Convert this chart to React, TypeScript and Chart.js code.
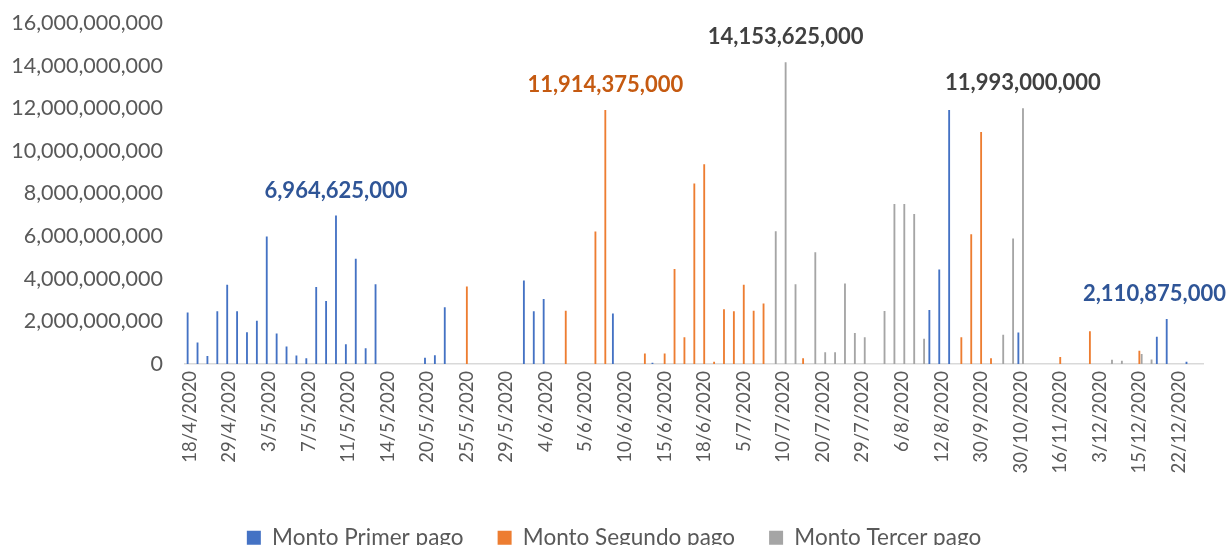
import React, { useEffect, useRef } from 'react';
import { Chart, registerables } from 'chart.js';

Chart.register(...registerables);

// Visible category tick labels (one every 4 categories)
const tickLabels = [
  '18/4/2020', '29/4/2020', '3/5/2020', '7/5/2020', '11/5/2020', '14/5/2020',
  '20/5/2020', '25/5/2020', '29/5/2020', '4/6/2020', '5/6/2020', '10/6/2020',
  '15/6/2020', '18/6/2020', '5/7/2020', '10/7/2020', '20/7/2020', '29/7/2020',
  '6/8/2020', '12/8/2020', '30/9/2020', '30/10/2020', '16/11/2020', '3/12/2020',
  '15/12/2020', '22/12/2020',
];
const categoryCount = 103;
const labelEvery = 4;

const seriesNames = ['Monto Primer pago', 'Monto Segundo pago', 'Monto Tercer pago'];

// Monto Primer pago
const primerPago = [
  2.41e9, 1.01e9, 0.37e9, 2.47e9, 3.72e9, 2.47e9, 1.48e9, 2.03e9, 5.98e9, 1.43e9,
  0.82e9, 0.40e9, 0.26e9, 3.61e9, 2.95e9, 6.964625e9, 0.92e9, 4.94e9, 0.73e9, 3.74e9,
  0, 0, 0, 0, 0.29e9, 0.41e9, 2.66e9, 0, 0, 0,
  0, 0, 0, 0, 3.92e9, 2.47e9, 3.05e9, 0, 0, 0,
  0, 0, 0, 2.36e9, 0, 0, 0, 0.05e9, 0, 0,
  0, 0, 0, 0, 0, 0, 0, 0, 0, 0,
  0, 0, 0, 0, 0, 0, 0, 0, 0, 0,
  0, 0, 0, 0, 0, 2.53e9, 4.43e9, 11.92e9, 0, 0,
  0, 0, 0, 0, 1.47e9, 0, 0, 0, 0, 0,
  0, 0, 0, 0, 0, 0, 0, 0, 1.28e9, 2.110875e9,
  0, 0.10e9, 0,
];

// Monto Segundo pago
const segundoPago = [
  0, 0, 0, 0, 0, 0, 0, 0, 0, 0,
  0, 0, 0, 0, 0, 0, 0, 0, 0, 0,
  0, 0, 0, 0, 0, 0, 0, 0, 3.63e9, 0,
  0, 0, 0, 0, 0, 0, 0, 0, 2.50e9, 0,
  0, 6.21e9, 11.914375e9, 0, 0, 0, 0.49e9, 0, 0.49e9, 4.45e9,
  1.25e9, 8.47e9, 9.37e9, 0.10e9, 2.56e9, 2.47e9, 3.72e9, 2.50e9, 2.84e9, 0,
  0, 0, 0.27e9, 0, 0, 0, 0, 0, 0, 0,
  0, 0, 0, 0, 0, 0, 0, 0, 1.25e9, 6.09e9,
  10.88e9, 0.27e9, 0, 0, 0, 0, 0, 0, 0.32e9, 0,
  0, 1.53e9, 0, 0, 0, 0, 0.62e9, 0, 0, 0,
  0, 0, 0,
];

// Monto Tercer pago
const tercerPago = [
  0, 0, 0, 0, 0, 0, 0, 0, 0, 0,
  0, 0, 0, 0, 0, 0, 0, 0, 0, 0,
  0, 0, 0, 0, 0, 0, 0, 0, 0, 0,
  0, 0, 0, 0, 0, 0, 0, 0, 0, 0,
  0, 0, 0, 0, 0, 0, 0, 0, 0, 0,
  0, 0, 0, 0, 0, 0, 0, 0, 0, 6.23e9,
  14.153625e9, 3.74e9, 0, 5.24e9, 0.55e9, 0.55e9, 3.77e9, 1.45e9, 1.25e9, 0,
  2.48e9, 7.50e9, 7.50e9, 7.03e9, 1.18e9, 0, 0, 0, 0, 0,
  0, 0, 1.37e9, 5.88e9, 11.993e9, 0, 0, 0, 0, 0,
  0, 0, 0, 0.20e9, 0.15e9, 0, 0.47e9, 0.21e9, 0, 0,
  0, 0, 0,
];

// [series index, category index] of the bars carrying a value label
const labelledBars = [
  [0, 15],
  [1, 42],
  [2, 60],
  [2, 84],
  [0, 99],
];

const yTickValues = [0, 2e9, 4e9, 6e9, 8e9, 10e9, 12e9, 14e9, 16e9];

const barColors = ['#4472C4', '#ED7D31', '#A5A5A5'];
const valueLabelColors = ['#2F5597', '#C55A11', '#404040'];
const FONT = 'Lato, "Open Sans", sans-serif';

const valueLabelPlugin = {
  id: 'valueLabels',
  afterDatasetsDraw(chart: any) {
    const ctx = chart.ctx;
    ctx.save();
    ctx.font = `bold 22px ${FONT}`;
    ctx.textAlign = 'center';
    ctx.textBaseline = 'middle';
    for (const [s, i] of labelledBars) {
      const el = chart.getDatasetMeta(s).data[i];
      const v = chart.data.datasets[s].data[i] as number;
      const text = Math.round(v).toLocaleString('en-US');
      const w = ctx.measureText(text).width;
      const x = Math.min(el.x, chart.width - 2 - w / 2);
      ctx.fillStyle = valueLabelColors[s];
      ctx.fillText(text, x, el.y - 25);
    }
    ctx.restore();
  },
};

export default function App() {
  const canvasRef = useRef<HTMLCanvasElement | null>(null);

  useEffect(() => {
    document.body.style.margin = '0';
    const canvas = canvasRef.current;
    if (!canvas) return;

    const categories = Array.from({ length: categoryCount }, (_, i) =>
      i % labelEvery === 0 ? tickLabels[i / labelEvery] ?? '' : ''
    );
    const series = [primerPago, segundoPago, tercerPago];

    const chart = new Chart(canvas, {
      type: 'bar',
      data: {
        labels: categories,
        datasets: series.map((d, k) => ({
          label: seriesNames[k],
          data: d,
          backgroundColor: barColors[k],
          borderWidth: 0,
          categoryPercentage: 0.7,
          barPercentage: 0.8,
          yAxisID: 'y',
        })),
      },
      options: {
        animation: false,
        responsive: false,
        devicePixelRatio: 1,
        layout: { padding: { left: 0, right: 0, top: 23, bottom: 0 } },
        plugins: {
          tooltip: { enabled: false },
          legend: {
            position: 'bottom',
            labels: {
              boxWidth: 14,
              boxHeight: 14,
              padding: 34,
              color: '#595959',
              font: { family: FONT, size: 22.5, lineHeight: 1.2 },
            },
          },
        },
        scales: {
          x: {
            grid: { display: false, drawTicks: false },
            border: { display: true, color: '#D9D9D9', width: 1.5 },
            ticks: {
              autoSkip: false,
              maxRotation: 90,
              minRotation: 90,
              padding: 7,
              color: '#595959',
              font: { family: FONT, size: 18.5 },
            },
            afterFit(scale: any) {
              scale.height = 128.6;
            },
          },
          y: {
            min: 0,
            max: 16e9,
            grid: { display: false, drawTicks: false },
            border: { display: false },
            afterBuildTicks(scale: any) {
              scale.ticks = yTickValues.map((v) => ({ value: v }));
            },
            ticks: {
              padding: 22,
              color: '#595959',
              font: { family: FONT, size: 21.5 },
              callback: (v: any) => Number(v).toLocaleString('en-US'),
            },
            afterFit(scale: any) {
              scale.width = 185;
              scale.paddingTop = 0;
              scale.paddingBottom = 0;
            },
          },
          yRight: {
            type: 'linear',
            position: 'right',
            grid: { display: false, drawTicks: false },
            border: { display: false },
            ticks: { display: false },
            afterFit(scale: any) {
              scale.width = 23;
              scale.paddingTop = 0;
              scale.paddingBottom = 0;
            },
          },
        },
      },
      plugins: [valueLabelPlugin],
    });

    return () => chart.destroy();
  }, []);

  return (
    <div style={{ width: 1228, height: 545, overflow: 'hidden', position: 'relative', background: '#fff' }}>
      <canvas ref={canvasRef} width={1228} height={559} style={{ display: 'block' }} />
    </div>
  );
}
